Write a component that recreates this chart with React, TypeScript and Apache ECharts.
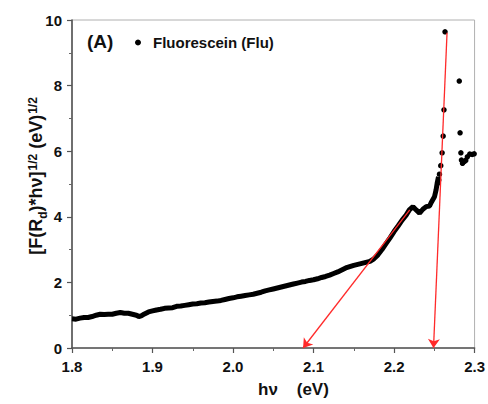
import React, { useEffect, useRef } from "react";
import * as echarts from "echarts";

const xTicks = [1.8, 1.9, 2.0, 2.1, 2.2, 2.3];
const yTicks = [0, 2, 4, 6, 8, 10];
const seriesName = "Fluorescein (Flu)";

// dense part of the measured curve [hν (eV), value]
const denseCurve: [number, number][] = [
  [1.8, 0.89], [1.805, 0.88], [1.81, 0.91], [1.815, 0.93], [1.82, 0.93], [1.825, 0.96],
  [1.83, 1.0], [1.835, 1.03], [1.84, 1.02], [1.845, 1.03], [1.85, 1.03], [1.855, 1.06],
  [1.86, 1.08], [1.865, 1.06], [1.87, 1.06], [1.875, 1.03], [1.88, 1.0], [1.883, 0.96],
  [1.886, 0.98], [1.89, 1.04], [1.895, 1.1], [1.9, 1.13], [1.905, 1.16], [1.91, 1.18],
  [1.915, 1.21], [1.92, 1.22], [1.925, 1.23], [1.93, 1.27], [1.935, 1.28], [1.94, 1.3],
  [1.945, 1.32], [1.95, 1.34], [1.955, 1.35], [1.96, 1.37], [1.965, 1.38], [1.97, 1.4],
  [1.975, 1.42], [1.98, 1.43], [1.985, 1.45], [1.99, 1.48], [1.995, 1.51], [2.0, 1.53],
  [2.005, 1.56], [2.01, 1.58], [2.015, 1.6], [2.02, 1.62], [2.025, 1.64], [2.03, 1.67],
  [2.035, 1.7], [2.04, 1.74], [2.045, 1.77], [2.05, 1.8], [2.055, 1.83], [2.06, 1.86],
  [2.065, 1.89], [2.07, 1.92], [2.075, 1.95], [2.08, 1.98], [2.085, 2.01], [2.09, 2.03],
  [2.095, 2.06], [2.1, 2.08], [2.105, 2.11], [2.11, 2.15], [2.115, 2.18], [2.12, 2.22],
  [2.125, 2.27], [2.13, 2.32], [2.135, 2.38], [2.14, 2.44], [2.145, 2.48], [2.15, 2.52],
  [2.155, 2.55], [2.16, 2.58], [2.165, 2.61], [2.17, 2.64], [2.175, 2.72], [2.18, 2.84],
  [2.185, 3.0], [2.19, 3.18], [2.195, 3.36], [2.2, 3.55], [2.205, 3.72], [2.21, 3.9],
  [2.215, 4.05], [2.219, 4.21], [2.2235, 4.31], [2.2275, 4.21], [2.2317, 4.11],
  [2.2358, 4.23], [2.2399, 4.31], [2.2441, 4.33], [2.246, 4.43], [2.2502, 4.61],
  [2.2522, 4.82], [2.2535, 5.02], [2.2552, 5.22],
];

// sparse points near the absorption edge
const sparsePoints: [number, number][] = [
  [2.2545, 5.03], [2.2555, 5.12], [2.2564, 5.3], [2.258, 5.56], [2.2597, 5.95],
  [2.261, 6.46], [2.262, 7.26], [2.2633, 9.64], [2.281, 8.14], [2.282, 6.56],
  [2.283, 5.95], [2.2837, 5.73], [2.285, 5.63], [2.287, 5.68], [2.289, 5.72],
  [2.291, 5.83], [2.294, 5.91], [2.297, 5.9], [2.2995, 5.92],
];

// tangent lines (start -> arrow end on the energy axis)
const tangentStarts: [number, number][] = [[2.2195, 4.21], [2.2658, 9.61]];
const tangentEnds: [number, number][] = [[2.087, 0], [2.249, 0]];

const FONT = 'Arial, "Liberation Sans", Helvetica, sans-serif';

export default function App() {
  const ref = useRef<HTMLDivElement>(null);
  useEffect(() => {
    if (!ref.current) return;
    const chart = echarts.init(ref.current, undefined, { renderer: "svg" });
    const axisText = { color: "#111", fontFamily: FONT, fontWeight: "bold" as const, fontSize: 15 };
    chart.setOption({
      animation: false,
      backgroundColor: "#fff",
      grid: {
        left: 72, right: 11, top: 20, bottom: 56,
        show: true, borderColor: "#b0b0b0", borderWidth: 1, backgroundColor: "transparent",
      },
      legend: {
        data: [{ name: seriesName, icon: "circle" }],
        left: 135, top: 35, padding: 0,
        itemWidth: 20, itemHeight: 6,
        textStyle: { color: "#111", fontFamily: FONT, fontWeight: "bold", fontSize: 15 },
        selectedMode: false,
      },
      graphic: [
        {
          type: "text", left: 87, top: 32, silent: true,
          style: { text: "(A)", fill: "#111", font: `bold 19px ${FONT}` },
        },
        {
          type: "text", left: 258, top: 381, silent: true,
          style: { text: "hν    (eV)", fill: "#111", font: `bold 17px ${FONT}` },
        },
        {
          type: "text", x: 36, y: 176, rotation: Math.PI / 2, silent: true,
          style: {
            text: "[F(R{sub|d})*hν]{sup|1/2} (eV){sup|1/2}",
            fill: "#111", font: `bold 18px ${FONT}`,
            align: "center", verticalAlign: "middle",
            rich: {
              sub: { fontSize: 12, fontWeight: "bold", fontFamily: FONT, fill: "#111", verticalAlign: "bottom", lineHeight: 10, padding: [0, 0, -4, 0] },
              sup: { fontSize: 12, fontWeight: "bold", fontFamily: FONT, fill: "#111", verticalAlign: "top", lineHeight: 10, padding: [0, 0, 0, 1] },
            },
          },
        },
      ],
      xAxis: {
        type: "value",
        min: xTicks[0], max: xTicks[xTicks.length - 1], interval: 0.1,
        axisLine: { show: true, onZero: false, lineStyle: { color: "#555", width: 1.6 } },
        axisTick: { show: true, length: 5, lineStyle: { color: "#555", width: 1.2 } },
        minorTick: { show: true, splitNumber: 2, length: 3, lineStyle: { color: "#666", width: 1 } },
        splitLine: { show: false },
        axisLabel: { ...axisText, margin: 11, formatter: (v: number) => v.toFixed(1) },
      },
      yAxis: {
        type: "value",
        min: yTicks[0], max: yTicks[yTicks.length - 1], interval: 2,
        axisLine: { show: true, lineStyle: { color: "#555", width: 1.6 } },
        axisTick: { show: true, length: 5, lineStyle: { color: "#555", width: 1.2 } },
        minorTick: { show: true, splitNumber: 2, length: 3, lineStyle: { color: "#666", width: 1 } },
        splitLine: { show: false },
        axisLabel: { ...axisText, margin: 10 },
      },
      series: [
        {
          name: seriesName, type: "line", data: denseCurve,
          showSymbol: false, symbol: "circle",
          lineStyle: { color: "#000", width: 5 },
          itemStyle: { color: "#000" },
          silent: true,
        },
        {
          name: seriesName, type: "scatter", data: sparsePoints,
          symbol: "circle", symbolSize: 5.5,
          itemStyle: { color: "#000", opacity: 1 },
          silent: true,
          markLine: {
            silent: true,
            symbol: ["none", "arrow"],
            symbolSize: 9,
            label: { show: false },
            lineStyle: { color: "#ff2a2a", width: 1.3, type: "solid" },
            data: tangentStarts.map((s, i) => [{ coord: s }, { coord: tangentEnds[i] }]),
          },
        },
      ],
    });
    return () => chart.dispose();
  }, []);
  return <div ref={ref} style={{ width: 488, height: 404, position: "absolute", left: 0, top: 0 }} />;
}
